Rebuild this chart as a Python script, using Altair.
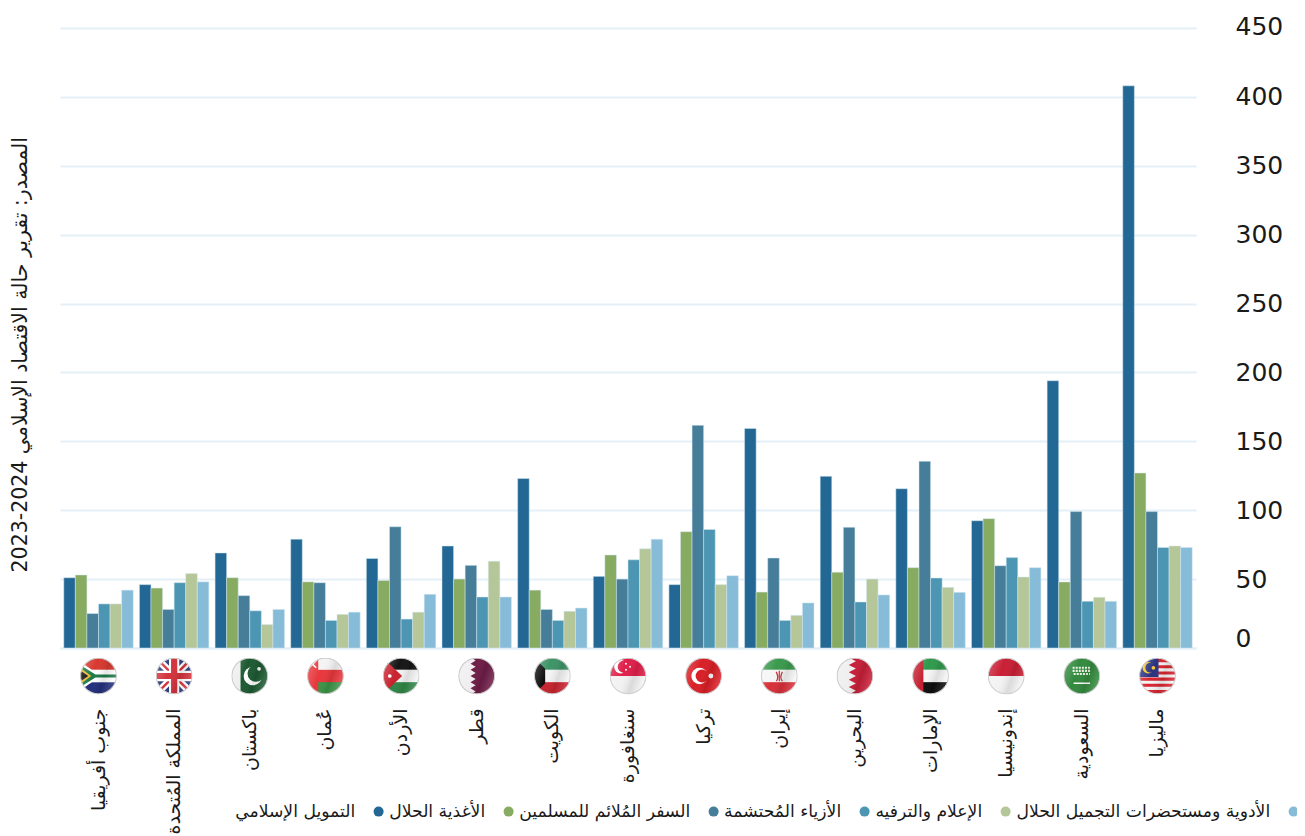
import base64
import altair as alt
import pandas as pd

countries = ["جنوب أفريقيا", "المملكة المُتحدة", "باكستان", "عُمان", "الأردن", "قطر", "الكويت", "سنغافورة",
             "تركيا", "إيران", "البحرين", "الإمارات", "إندونيسيا", "السعودية", "ماليزيا"]
series = ["التمويل الإسلامي", "الأغذية الحلال", "السفر المُلائم للمسلمين", "الأزياء المُحتشمة",
          "الإعلام والترفيه", "الأدوية ومستحضرات التجميل الحلال"]
colors = ["#236895", "#87ab61", "#467d99", "#4c96b3", "#b5c799", "#86bcd7"]

finance = [51, 46, 69, 79, 65, 74, 123, 52, 46, 159.4, 124.6, 115.6, 92.4, 194, 408]
food = [53, 43.5, 51, 48, 49, 50, 42, 67.5, 84.4, 40.6, 55, 58.3, 93.9, 47.9, 127]
travel = [25, 28, 38, 47.4, 88, 60, 28, 50, 161.6, 65.3, 87.6, 135.5, 59.7, 99, 99]
fashion = [32, 47.4, 27, 20, 21, 37, 20, 64, 86, 20, 33.4, 50.8, 65.6, 33.9, 73]
media = [32, 54, 17, 24.4, 26, 63, 26.6, 72, 46, 23.7, 50, 44, 51.5, 36.8, 74]
pharma = [42, 48, 28, 26, 39, 37, 29, 79, 52.5, 32.7, 38.5, 40.4, 58.3, 33.9, 73]
values = [finance, food, travel, fashion, media, pharma]
y_ticks = [0, 50, 100, 150, 200, 250, 300, 350, 400, 450]
source = "المصدر: تقرير حالة الاقتصاد الإسلامي 2024-2023"

flag_art = [
    '<rect width="36" height="12" fill="#d8392f"/><rect y="24" width="36" height="12" fill="#232f7d"/><rect y="12" width="36" height="12" fill="#fff"/><path d="M0 4L16 15H36V21H16L0 32Z" fill="#fff"/><path d="M0 7L15 16.5H36V19.5H15L0 29Z" fill="#1c7a48"/><path d="M0 10L11 18L0 26Z" fill="#f2b92c"/><path d="M0 12.5L8 18L0 23.5Z" fill="#111"/>',
    '<rect width="36" height="36" fill="#2b3a7c"/><path d="M0 0L36 36M36 0L0 36" stroke="#fff" stroke-width="7"/><path d="M0 0L36 36M36 0L0 36" stroke="#d3333d" stroke-width="2.4"/><path d="M18 0V36M0 18H36" stroke="#fff" stroke-width="10"/><path d="M18 0V36M0 18H36" stroke="#d3333d" stroke-width="6"/>',
    '<rect width="36" height="36" fill="#1d5a32"/><rect width="9" height="36" fill="#eee"/><circle cx="21" cy="18" r="9" fill="#fff"/><circle cx="24" cy="15.5" r="8.2" fill="#1d5a32"/><circle cx="27" cy="11" r="1.8" fill="#fff"/>',
    '<rect width="36" height="36" fill="#e8373c"/><rect x="11" width="25" height="12" fill="#f4f4f4"/><rect x="11" y="24" width="25" height="12" fill="#3b9448"/><path d="M2 3L9 10M9 3L2 10" stroke="#fff" stroke-width="1.6"/>',
    '<rect width="36" height="12" fill="#151515"/><rect y="12" width="36" height="12" fill="#f4f4f4"/><rect y="24" width="36" height="12" fill="#2f8646"/><path d="M0 0L19 18L0 36Z" fill="#c8232f"/><circle cx="7" cy="18" r="1.8" fill="#fff"/>',
    '<rect width="36" height="36" fill="#6f1d47"/><path d="M0 0H12L17 3L12 6L17 9L12 12L17 15L12 18L17 21L12 24L17 27L12 30L17 33L12 36H0Z" fill="#f0eef0"/>',
    '<rect width="36" height="12" fill="#3d9467"/><rect y="12" width="36" height="12" fill="#f4f4f4"/><rect y="24" width="36" height="12" fill="#c8242f"/><path d="M0 0L11 11V25L0 36Z" fill="#0c0c0c"/>',
    '<rect width="36" height="18" fill="#e01f4a"/><rect y="18" width="36" height="18" fill="#f2f2f2"/><circle cx="11" cy="9" r="6.5" fill="#fff"/><circle cx="14" cy="9" r="6" fill="#e01f4a"/><circle cx="16" cy="6" r="1" fill="#fff"/><circle cx="20" cy="9" r="1" fill="#fff"/><circle cx="16" cy="12" r="1" fill="#fff"/>',
    '<rect width="36" height="36" fill="#d91f26"/><circle cx="14" cy="18" r="8" fill="#fff"/><circle cx="16.5" cy="18" r="6.3" fill="#d91f26"/><circle cx="25" cy="18" r="2.4" fill="#fff"/>',
    '<rect width="36" height="12" fill="#3a9a4d"/><rect y="12" width="36" height="12" fill="#f6f6f6"/><rect y="24" width="36" height="12" fill="#d8303a"/><path d="M15 14Q18 20 15 23M21 14Q18 20 21 23M18 13V23" stroke="#c8303a" stroke-width="1.2" fill="none"/>',
    '<rect width="36" height="36" fill="#c81f38"/><path d="M0 0H12L19 3.6L12 7.2L19 10.8L12 14.4L19 18L12 21.6L19 25.2L12 28.8L19 32.4L12 36H0Z" fill="#f0eff0"/>',
    '<rect x="10" width="26" height="12" fill="#2f9a4b"/><rect x="10" y="12" width="26" height="12" fill="#f6f6f6"/><rect x="10" y="24" width="26" height="12" fill="#0d0d0d"/><rect width="11" height="36" fill="#c4202f"/>',
    '<rect width="36" height="18" fill="#c91f35"/><rect y="18" width="36" height="18" fill="#f3f3f3"/>',
    '<rect width="36" height="36" fill="#338a3e"/><path d="M9 10H27M9 13H27M10 16H26" stroke="#e9f2e3" stroke-width="2" stroke-dasharray="2 1"/><path d="M10 25H26" stroke="#fff" stroke-width="1.4"/>',
    '<rect width="36" height="36" fill="#f4f4f4"/><path d="M0 3H36M0 9H36M0 15H36M0 21H36M0 27H36M0 33H36" stroke="#d8242f" stroke-width="3"/><rect width="19" height="19" fill="#2b3380"/><circle cx="9" cy="10" r="5.6" fill="#f5c52e"/><circle cx="11" cy="10" r="4.8" fill="#2b3380"/><circle cx="14" cy="10" r="1.8" fill="#f5c52e"/>',
]


def flag_uri(art):
    svg = ('<svg xmlns="http://www.w3.org/2000/svg" width="72" height="72" viewBox="0 0 36 36">'
           '<defs><clipPath id="c"><circle cx="18" cy="18" r="17.4"/></clipPath>'
           '<linearGradient id="g" x1="0" y1="0" x2="1" y2="0.35">'
           '<stop offset="0" stop-color="#fff" stop-opacity="0.28"/>'
           '<stop offset="0.45" stop-color="#fff" stop-opacity="0"/>'
           '<stop offset="0.75" stop-color="#000" stop-opacity="0.1"/>'
           '<stop offset="1" stop-color="#fff" stop-opacity="0.12"/></linearGradient></defs>'
           '<g clip-path="url(#c)">' + art + '<rect width="36" height="36" fill="url(#g)"/></g>'
           '<circle cx="18" cy="18" r="17.4" fill="none" stroke="#cfcfcf" stroke-width="1"/></svg>')
    return "data:image/svg+xml;base64," + base64.b64encode(svg.encode("utf-8")).decode("ascii")


bars_df = pd.DataFrame([
    {"country": c, "series": s, "value": values[j][i]}
    for i, c in enumerate(countries) for j, s in enumerate(series)
])
flags_df = pd.DataFrame({"country": countries, "flag": [flag_uri(a) for a in flag_art]})
source_df = pd.DataFrame({"label": [source]})

ARABIC = "DejaVu Sans"
GRID = "#e4f0f8"
INK = "#1a1a1a"

x_scale = alt.Scale(domain=countries, paddingInner=0.082, paddingOuter=0.05)

bars = alt.Chart(bars_df).mark_bar(stroke="#d5e6f0", strokeWidth=0.5).encode(
    x=alt.X("country:N", sort=countries, scale=x_scale, title=None,
            axis=alt.Axis(orient="bottom", labelAngle=270, labelAlign="right", labelBaseline="middle",
                          labelPadding=60, labelFont=ARABIC, labelFontSize=19, labelColor=INK,
                          labelLimit=300, labelOverlap=False, ticks=False, domainColor=GRID, domainWidth=2,
                          grid=False)),
    xOffset=alt.XOffset("series:N", sort=series, scale=alt.Scale(domain=series, padding=0)),
    y=alt.Y("value:Q", scale=alt.Scale(domain=[0, 450], nice=False), title=None,
            axis=alt.Axis(orient="right", values=y_ticks, ticks=False, domain=False, gridColor=GRID,
                          gridWidth=2, labelFont="DejaVu Sans", labelFontSize=25, labelColor=INK,
                          labelPadding=39, labelAlign="left",
                          labelOffset=alt.expr("datum.value === 0 ? -10 : datum.value === 450 ? -2 : 0"))),
    color=alt.Color("series:N", sort=series, scale=alt.Scale(domain=series, range=colors),
                    legend=alt.Legend(orient="none", legendX=310, legendY=775, direction="horizontal",
                                      columns=6, title=None, symbolType="circle", symbolSize=100,
                                      symbolStrokeWidth=0, labelAlign="right", labelOffset=alt.expr("-32"),
                                      labelFont=ARABIC, labelFontSize=17.2, labelColor=INK,
                                      labelLimit=400, columnPadding=5, gridAlign="none")),
)

flags = alt.Chart(flags_df).mark_image(width=37, height=37).encode(
    x=alt.X("country:N", sort=countries, scale=x_scale),
    y=alt.value(648),
    url="flag:N",
)

source_text = alt.Chart(source_df).mark_text(
    angle=270, align="right", baseline="middle", font=ARABIC, fontSize=20.5, color=INK
).encode(x=alt.value(-39), y=alt.value(109), text="label:N")

chart = alt.layer(bars, flags, source_text).properties(
    width=1136, height=620,
    padding={"left": 52, "top": 20, "right": 101, "bottom": 188},
    autosize=alt.AutoSizeParams(type="none"),
    background="white",
).configure_view(stroke=None)

chart.save("out.html", embed_options={"renderer": "svg", "actions": False})
